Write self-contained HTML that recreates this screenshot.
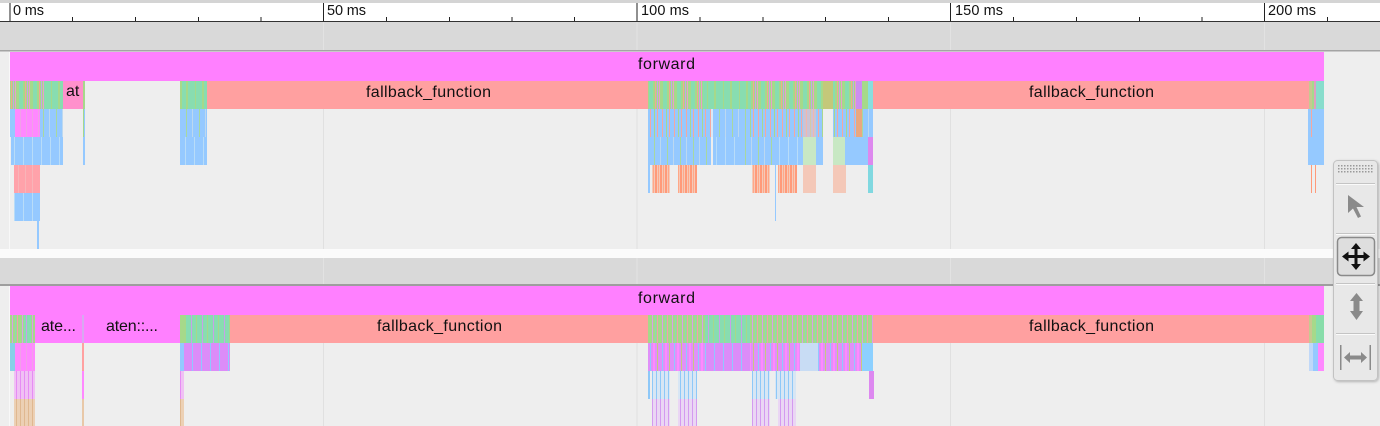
<!DOCTYPE html>
<html><head><meta charset="utf-8">
<style>
html,body{margin:0;padding:0;background:#eeeeee;}
svg{display:block;}
text{font-family:"Liberation Sans",sans-serif;fill:#111;}
</style></head>
<body>
<svg width="1380" height="426" viewBox="0 0 1380 426" xmlns="http://www.w3.org/2000/svg">
<defs>
<pattern id="pgm" width="14" height="30" patternUnits="userSpaceOnUse">
 <rect width="14" height="30" fill="#a6d98a"/><rect x="5" width="4" height="30" fill="#88ddb0"/>
 <rect x="1" width="1" height="30" fill="#e8a0c8"/><rect x="11" width="1" height="30" fill="#f0a890"/><rect x="13" width="1" height="30" fill="#c8a0e8"/>
</pattern>
<pattern id="ptm" width="16" height="30" patternUnits="userSpaceOnUse">
 <rect width="16" height="30" fill="#88ddb0"/><rect x="3" width="1" height="30" fill="#a6d98a"/><rect x="10" width="2" height="30" fill="#a6d98a"/>
</pattern>
<pattern id="ptm2" width="11" height="30" patternUnits="userSpaceOnUse">
 <rect width="11" height="30" fill="#88ddb0"/><rect x="4" width="1" height="30" fill="#c8a0e8"/><rect x="9" width="1" height="30" fill="#a6d98a"/>
</pattern>
<pattern id="pgm2" width="10" height="30" patternUnits="userSpaceOnUse">
 <rect width="10" height="30" fill="#a6d98a"/><rect x="2" width="1" height="30" fill="#d8a0e8"/><rect x="5" width="1" height="30" fill="#88ddb0"/><rect x="7" width="1" height="30" fill="#f0a0b0"/>
</pattern>
<pattern id="pbs" width="12" height="30" patternUnits="userSpaceOnUse">
 <rect width="12" height="30" fill="#95c9ff"/><rect x="2" width="1" height="30" fill="#f4a8a0"/><rect x="6" width="1" height="30" fill="#a8d890"/><rect x="9" width="1" height="30" fill="#f4a8a0"/>
</pattern>
<pattern id="pbg" width="13" height="30" patternUnits="userSpaceOnUse">
 <rect width="13" height="30" fill="#95c9ff"/><rect x="4" width="1" height="30" fill="#a8d8a0"/><rect x="10" width="1" height="30" fill="#bcd8f0"/>
</pattern>
<pattern id="pbl" width="9" height="30" patternUnits="userSpaceOnUse">
 <rect width="9" height="30" fill="#95c9ff"/><rect x="5" width="1" height="30" fill="#b8dcf8"/>
</pattern>
<pattern id="po" width="5" height="30" patternUnits="userSpaceOnUse">
 <rect width="5" height="30" fill="#f5c9b8"/><rect x="0" width="2" height="30" fill="#ff9a7a"/><rect x="3" width="1" height="30" fill="#ffa888"/>
</pattern>
<pattern id="plb" width="4" height="30" patternUnits="userSpaceOnUse">
 <rect width="4" height="30" fill="#d8e6f4"/><rect x="0" width="1" height="30" fill="#8ec8f8"/>
</pattern>
<pattern id="plp" width="4" height="30" patternUnits="userSpaceOnUse">
 <rect width="4" height="30" fill="#ead6f4"/><rect x="0" width="1" height="30" fill="#d49af0"/>
</pattern>
<pattern id="ppk" width="4" height="30" patternUnits="userSpaceOnUse">
 <rect width="4" height="30" fill="#f0c0f4"/><rect x="0" width="1" height="30" fill="#e68cf4"/>
</pattern>
<pattern id="ptan" width="4" height="30" patternUnits="userSpaceOnUse">
 <rect width="4" height="30" fill="#ecd0b4"/><rect x="0" width="1" height="30" fill="#e0b890"/>
</pattern>
<pattern id="ppm" width="12" height="30" patternUnits="userSpaceOnUse">
 <rect width="12" height="30" fill="#e090f8"/><rect x="2" width="1" height="30" fill="#90c8ff"/><rect x="5" width="2" height="30" fill="#ff88ff"/><rect x="9" width="1" height="30" fill="#c8c880"/>
</pattern>
<pattern id="ppb" width="9" height="30" patternUnits="userSpaceOnUse">
 <rect width="9" height="30" fill="#dc8cf8"/><rect x="3" width="1" height="30" fill="#90c8ff"/>
</pattern>
<pattern id="pmg" width="6" height="30" patternUnits="userSpaceOnUse">
 <rect width="6" height="30" fill="#ff88ff"/><rect x="2" width="1" height="30" fill="#f0a0e8"/>
</pattern>
<pattern id="pgrip" width="3" height="3" patternUnits="userSpaceOnUse">
 <rect width="1.5" height="1.5" fill="#9a9a9a"/>
</pattern>
<filter id="sh" x="-20%" y="-10%" width="140%" height="120%"><feDropShadow dx="1" dy="1" stdDeviation="1.2" flood-color="#000" flood-opacity="0.25"/></filter>
</defs>

<!-- background -->
<rect width="1380" height="426" fill="#eeeeee"/>
<!-- top axis -->
<rect x="0" y="0" width="1380" height="3" fill="#d4d4d4"/>
<rect x="0" y="3" width="1380" height="18" fill="#ffffff"/>
<rect x="0" y="21" width="1380" height="1" fill="#333"/>
<g fill="#222">
<rect x="9.5" y="3" width="1" height="18"/><rect x="323" y="3" width="1" height="18"/><rect x="636.5" y="3" width="1" height="18"/><rect x="950" y="3" width="1" height="18"/><rect x="1264" y="3" width="1" height="18"/>
<rect x="72" y="17" width="1" height="4"/><rect x="135" y="17" width="1" height="4"/><rect x="198" y="17" width="1" height="4"/><rect x="260.5" y="17" width="1" height="4"/>
<rect x="386" y="17" width="1" height="4"/><rect x="449" y="17" width="1" height="4"/><rect x="511.5" y="17" width="1" height="4"/><rect x="574" y="17" width="1" height="4"/>
<rect x="699.5" y="17" width="1" height="4"/><rect x="762.5" y="17" width="1" height="4"/><rect x="825" y="17" width="1" height="4"/><rect x="888" y="17" width="1" height="4"/>
<rect x="1013" y="17" width="1" height="4"/><rect x="1076" y="17" width="1" height="4"/><rect x="1139" y="17" width="1" height="4"/><rect x="1201.5" y="17" width="1" height="4"/>
<rect x="1327" y="17" width="1" height="4"/>
</g>
<g font-size="14.5">
<text x="13" y="15" textLength="31">0 ms</text>
<text x="327" y="15" textLength="39">50 ms</text>
<text x="641" y="15" textLength="48">100 ms</text>
<text x="955" y="15" textLength="48">150 ms</text>
<text x="1268" y="15" textLength="48">200 ms</text>
</g>

<!-- group 1 header -->
<rect x="0" y="22" width="1380" height="28" fill="#d9d9d9"/>
<rect x="0" y="50" width="1380" height="1.5" fill="#a4a4a4"/>
<!-- group 2 header -->
<rect x="0" y="249" width="1380" height="9" fill="#fbfbfb"/>
<rect x="0" y="258" width="1380" height="26" fill="#d9d9d9"/>
<rect x="0" y="284" width="1380" height="2" fill="#9e9e9e"/>

<!-- grid lines -->
<g fill="#e2e2e2">
<rect x="323" y="22" width="1" height="28"/><rect x="636.5" y="22" width="1" height="28"/><rect x="950" y="22" width="1" height="28"/><rect x="1264" y="22" width="1" height="28"/>
<rect x="323" y="258" width="1" height="26"/><rect x="636.5" y="258" width="1" height="26"/><rect x="950" y="258" width="1" height="26"/><rect x="1264" y="258" width="1" height="26"/>
</g>
<g fill="#e0e0e0">
<rect x="323" y="52" width="1" height="197"/><rect x="636.5" y="52" width="1" height="197"/><rect x="950" y="52" width="1" height="197"/><rect x="1264" y="52" width="1" height="197"/>
<rect x="323" y="286" width="1" height="140"/><rect x="636.5" y="286" width="1" height="140"/><rect x="950" y="286" width="1" height="140"/><rect x="1264" y="286" width="1" height="140"/>
</g>
<rect x="9" y="52" width="1" height="197" fill="#f8f8f8"/>
<rect x="9" y="286" width="1" height="140" fill="#f8f8f8"/>

<!-- ================= GROUP 1 ================= -->
<rect x="10" y="52" width="1314" height="29" fill="#ff80ff"/>
<text x="638" y="69" font-size="16" textLength="57">forward</text>

<!-- row 2 : 81-109 -->
<rect x="10" y="81" width="34" height="28" fill="url(#pgm)"/>
<rect x="44" y="81" width="19" height="28" fill="url(#ptm)"/>
<rect x="63" y="81" width="20" height="28" fill="#ff90cc"/>
<text x="66" y="96" font-size="16">at</text>
<rect x="83" y="81" width="2" height="28" fill="#a6d98a"/>
<rect x="180" y="81" width="2" height="28" fill="#a6d98a"/>
<rect x="182" y="81" width="25" height="28" fill="url(#ptm)"/>
<rect x="207" y="81" width="442" height="28" fill="#ffa0a0"/>
<text x="366" y="97" font-size="16" textLength="125">fallback_function</text>
<rect x="648" y="81" width="55" height="28" fill="url(#pgm)"/>
<rect x="703" y="81" width="47" height="28" fill="url(#ptm)"/>
<rect x="750" y="81" width="73" height="28" fill="url(#pgm)"/>
<rect x="823" y="81" width="10" height="28" fill="#c4c87a"/>
<rect x="833" y="81" width="23" height="28" fill="url(#pgm)"/>
<rect x="856" y="81" width="6" height="28" fill="#cc8ef0"/>
<rect x="862" y="81" width="6" height="28" fill="#a6d98a"/>
<rect x="868" y="81" width="5" height="28" fill="#88dede"/>
<rect x="873" y="81" width="436" height="28" fill="#ffa0a0"/>
<text x="1029" y="97" font-size="16" textLength="125">fallback_function</text>
<rect x="1309" y="81" width="3" height="28" fill="#c8c890"/>
<rect x="1312" y="81" width="2" height="28" fill="#a6d98a"/>
<rect x="1314" y="81" width="2" height="28" fill="#e0a0c0"/>
<rect x="1316" y="81" width="8" height="28" fill="#88ddcc"/>

<!-- row 3 : 109-137 -->
<rect x="10" y="109" width="5" height="28" fill="#95c9ff"/>
<rect x="15" y="109" width="25" height="28" fill="url(#pmg)"/>
<rect x="40" y="109" width="23" height="28" fill="url(#pbg)"/>
<rect x="83" y="109" width="1" height="28" fill="#a6d98a"/>
<rect x="84" y="109" width="1" height="28" fill="#95c9ff"/>
<rect x="180" y="109" width="27" height="28" fill="url(#pbg)"/>
<rect x="648" y="109" width="63" height="28" fill="url(#pbs)"/>
<rect x="711" y="109" width="2" height="28" fill="#d8e8f8"/>
<rect x="713" y="109" width="37" height="28" fill="url(#pbg)"/>
<rect x="750" y="109" width="73" height="28" fill="url(#pbs)"/>
<rect x="803" y="109" width="13" height="28" fill="#f0c0b8" opacity="0.6"/>
<rect x="833" y="109" width="23" height="28" fill="url(#pbs)"/>
<rect x="856" y="109" width="6" height="28" fill="#eaa880"/>
<rect x="862" y="109" width="11" height="28" fill="url(#pbg)"/>
<rect x="1308" y="109" width="16" height="28" fill="#95c9ff"/>
<rect x="1311" y="109" width="1" height="28" fill="#f4a8a0"/>

<!-- row 4 : 137-165 -->
<rect x="11" y="137" width="52" height="28" fill="url(#pbl)"/>
<rect x="83" y="137" width="2" height="28" fill="#95c9ff"/>
<rect x="180" y="137" width="27" height="28" fill="url(#pbl)"/>
<rect x="648" y="137" width="63" height="28" fill="url(#pbg)"/>
<rect x="713" y="137" width="110" height="28" fill="url(#pbl)"/>
<rect x="740" y="137" width="36" height="28" fill="url(#pbg)"/>
<rect x="803" y="137" width="13" height="28" fill="#c8e8c4"/>
<rect x="833" y="137" width="12" height="28" fill="#c8e8c4"/>
<rect x="845" y="137" width="23" height="28" fill="#95c9ff"/>
<rect x="868" y="137" width="5" height="28" fill="#dd88ee"/>
<rect x="1308" y="137" width="16" height="28" fill="#95c9ff"/>

<!-- row 5 : 165-193 -->
<rect x="14" y="165" width="26" height="28" fill="#ffa2aa"/>
<rect x="18" y="165" width="1" height="28" fill="#f8b4b8"/><rect x="25" y="165" width="1" height="28" fill="#f8b4b8"/><rect x="32" y="165" width="1" height="28" fill="#f8b4b8"/>
<rect x="648" y="165" width="2" height="28" fill="#95c9ff"/>
<rect x="652" y="165" width="18" height="28" fill="url(#po)"/>
<rect x="678" y="165" width="19" height="28" fill="url(#po)"/>
<rect x="752" y="165" width="18" height="28" fill="url(#po)"/>
<rect x="778" y="165" width="19" height="28" fill="url(#po)"/>
<rect x="803" y="165" width="13" height="28" fill="#f4c8b8"/>
<rect x="833" y="165" width="13" height="28" fill="#f4c8b8"/>
<rect x="868" y="165" width="5" height="28" fill="#80d8e0"/>
<rect x="1311" y="165" width="1" height="28" fill="#ff9a7a"/>
<rect x="1315" y="165" width="1" height="28" fill="#ff9a7a"/>

<!-- row 6 : 193-221 -->
<rect x="14" y="193" width="26" height="28" fill="url(#pbl)"/>
<rect x="775" y="165" width="1" height="56" fill="#95c9ff"/>
<!-- row 7 -->
<rect x="37" y="221" width="2" height="28" fill="#95c9ff"/>

<!-- ================= GROUP 2 ================= -->
<rect x="10" y="286" width="1314" height="29" fill="#ff80ff"/>
<text x="638" y="303" font-size="16" textLength="57">forward</text>

<!-- row 2 : 315-343 -->
<rect x="10" y="315" width="25" height="28" fill="url(#pgm2)"/>
<rect x="24" y="315" width="8" height="28" fill="url(#ptm2)"/>
<rect x="35" y="315" width="47" height="28" fill="#ff80ff"/>
<text x="41" y="331" font-size="16" textLength="35">ate...</text>
<rect x="82" y="315" width="2" height="28" fill="#d8a8f0"/>
<rect x="84" y="315" width="96" height="28" fill="#ff80ff"/>
<text x="106" y="331" font-size="16" textLength="52">aten::...</text>
<rect x="180" y="315" width="6" height="28" fill="#a6d98a"/>
<rect x="186" y="315" width="44" height="28" fill="url(#ptm2)"/>
<rect x="230" y="315" width="418" height="28" fill="#ffa0a0"/>
<text x="377" y="331" font-size="16" textLength="125">fallback_function</text>
<rect x="648" y="315" width="57" height="28" fill="url(#pgm2)"/>
<rect x="705" y="315" width="45" height="28" fill="url(#ptm2)"/>
<rect x="750" y="315" width="123" height="28" fill="url(#pgm2)"/>
<rect x="873" y="315" width="436" height="28" fill="#ffa0a0"/>
<text x="1029" y="331" font-size="16" textLength="125">fallback_function</text>
<rect x="1309" y="315" width="3" height="28" fill="#c8c890"/>
<rect x="1312" y="315" width="4" height="28" fill="#a6d98a"/>
<rect x="1316" y="315" width="8" height="28" fill="#88ddaa"/>

<!-- row 3 : 343-371 -->
<rect x="10" y="343" width="5" height="28" fill="#88d0e8"/>
<rect x="15" y="343" width="20" height="28" fill="url(#pmg)"/>
<rect x="82" y="343" width="2" height="28" fill="#ffa0a0"/>
<rect x="180" y="343" width="4" height="28" fill="#95c9ff"/>
<rect x="184" y="343" width="46" height="28" fill="url(#ppb)"/>
<rect x="648" y="343" width="57" height="28" fill="url(#ppm)"/>
<rect x="705" y="343" width="45" height="28" fill="url(#ppb)"/>
<rect x="750" y="343" width="50" height="28" fill="url(#ppm)"/>
<rect x="800" y="343" width="18" height="28" fill="#c8dcf4"/>
<rect x="818" y="343" width="44" height="28" fill="url(#ppm)"/>
<rect x="862" y="343" width="11" height="28" fill="#8cd0ff"/>
<rect x="1309" y="343" width="4" height="28" fill="#c0d8f8"/>
<rect x="1313" y="343" width="5" height="28" fill="#95c9ff"/>
<rect x="1318" y="343" width="6" height="28" fill="#ff88ff"/>

<!-- row 4 : 371-399 -->
<rect x="14" y="371" width="21" height="28" fill="url(#ppk)"/>
<rect x="82" y="371" width="2" height="28" fill="#ff88ff"/>
<rect x="180" y="371" width="4" height="28" fill="url(#ppk)"/>
<rect x="648" y="371" width="2" height="28" fill="#8ec8f8"/>
<rect x="652" y="371" width="18" height="28" fill="url(#plb)"/>
<rect x="678" y="371" width="19" height="28" fill="url(#plb)"/>
<rect x="752" y="371" width="18" height="28" fill="url(#plb)"/>
<rect x="775" y="371" width="21" height="28" fill="url(#plb)"/>
<rect x="869" y="371" width="5" height="28" fill="#dd88f0"/>

<!-- row 5 : 399-426 -->
<rect x="14" y="399" width="21" height="27" fill="url(#ptan)"/>
<rect x="82" y="399" width="2" height="27" fill="#e8c8a8"/>
<rect x="180" y="399" width="4" height="27" fill="url(#ptan)"/>
<rect x="652" y="399" width="18" height="27" fill="url(#plp)"/>
<rect x="678" y="399" width="19" height="27" fill="url(#plp)"/>
<rect x="752" y="399" width="18" height="27" fill="url(#plp)"/>
<rect x="778" y="399" width="18" height="27" fill="url(#plp)"/>

<!-- ================= TOOLBAR ================= -->
<rect x="1333.5" y="160.5" width="44" height="220" rx="4" fill="#e8e8e8" stroke="#c2c2c2" filter="url(#sh)"/>
<rect x="1338" y="164" width="36" height="9" fill="url(#pgrip)"/>
<g>
<rect x="1336" y="183" width="39" height="1" fill="#c4c4c4"/><rect x="1336" y="184" width="39" height="1" fill="#fafafa"/>
<rect x="1336" y="233" width="39" height="1" fill="#c4c4c4"/><rect x="1336" y="234" width="39" height="1" fill="#fafafa"/>
<rect x="1336" y="283" width="39" height="1" fill="#c4c4c4"/><rect x="1336" y="284" width="39" height="1" fill="#fafafa"/>
<rect x="1336" y="333" width="39" height="1" fill="#c4c4c4"/><rect x="1336" y="334" width="39" height="1" fill="#fafafa"/>
</g>
<!-- cursor -->
<path d="M1348,195 L1348,213 L1353,208.5 L1358,218 L1361,216.5 L1356.5,207 L1364,207 Z" fill="#8a8a8a"/>
<!-- move (selected) -->
<rect x="1337.5" y="237.5" width="37" height="38" rx="4" fill="#dedede" stroke="#8a8a8a" stroke-width="1.5"/>
<path d="M1356,243 L1361,249 L1357.5,249 L1357.5,255 L1363.5,255 L1363.5,251.5 L1370,256.5 L1363.5,261.5 L1363.5,258 L1357.5,258 L1357.5,264 L1361,264 L1356,270 L1351,264 L1354.5,264 L1354.5,258 L1348.5,258 L1348.5,261.5 L1342,256.5 L1348.5,251.5 L1348.5,255 L1354.5,255 L1354.5,249 L1351,249 Z" fill="#111"/>
<!-- vertical zoom arrow -->
<path d="M1356.5,293 L1363,301 L1359.5,301 L1359.5,311 L1363,311 L1356.5,320 L1350,311 L1353.5,311 L1353.5,301 L1350,301 Z" fill="#8a8a8a"/>
<!-- horizontal span -->
<rect x="1340" y="345" width="1.5" height="25" fill="#8a8a8a"/>
<rect x="1369.5" y="345" width="1.5" height="25" fill="#8a8a8a"/>
<path d="M1344,357.5 L1350,352 L1350,355.5 L1361,355.5 L1361,352 L1367,357.5 L1361,363 L1361,359.5 L1350,359.5 L1350,363 Z" fill="#8a8a8a"/>
</svg>
</body></html>
